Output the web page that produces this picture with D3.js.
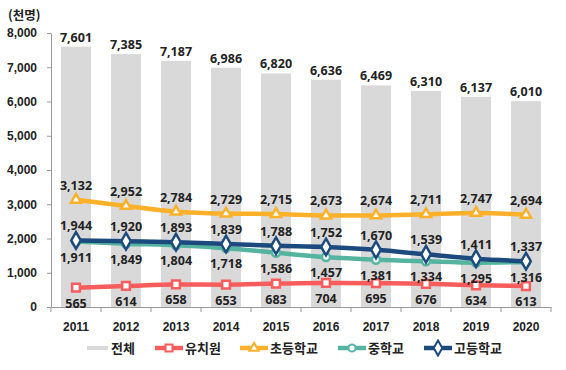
<!DOCTYPE html>
<html lang="ko">
<head>
<meta charset="utf-8">
<title>학생 수 추이</title>
<style>
  body { margin: 0; background: #fff; }
  svg { display: block; font-family: "Noto Sans", "Noto Sans CJK KR", sans-serif; }
  .tick text { font-size: 12px; font-weight: bold; fill: #222; }
  .lbl { font-size: 12.5px; font-weight: bold; fill: #222; text-anchor: middle; }
</style>
</head>
<body>
<div id="chart"></div>
<script src="https://d3js.org/d3.v7.min.js"></script>
<script>
const years = ["2011", "2012", "2013", "2014", "2015", "2016", "2017", "2018", "2019", "2020"];
const total = [7601, 7385, 7187, 6986, 6820, 6636, 6469, 6310, 6137, 6010];
const kinder = [565, 614, 658, 653, 683, 704, 695, 676, 634, 613];
const elem = [3132, 2952, 2784, 2729, 2715, 2673, 2674, 2711, 2747, 2694];
const middle = [1911, 1849, 1804, 1718, 1586, 1457, 1381, 1334, 1295, 1316];
const high = [1944, 1920, 1893, 1839, 1788, 1752, 1670, 1539, 1411, 1337];
const yTicks = [0, 1000, 2000, 3000, 4000, 5000, 6000, 7000, 8000];

const width = 566, height = 370,
    padding = [33, 15, 63, 51]; // top, right, bottom, left
const plotBottom = height - padding[2];

const series = [
  {name: "유치원", values: kinder, color: "#f95c5c", symbol: d3.symbolSquare, size: 60, below: true},
  {name: "초등학교", values: elem, color: "#fdb12a", symbol: d3.symbolTriangle, size: 45, below: false},
  {name: "중학교", values: middle, color: "#55b4a0", symbol: d3.symbolCircle, size: 50, below: true},
  {name: "고등학교", values: high, color: "#1c4a7e", symbol: d3.symbolDiamond, size: 80, below: false}
];

const svg = d3.select("#chart").append("svg")
    .attr("width", width)
    .attr("height", height);

const x = d3.scaleBand().domain(years)
    .range([padding[3], width - padding[1]])
    .paddingInner(0.4).paddingOuter(0.2);
const y = d3.scaleLinear().domain([0, 8000]).range([plotBottom, padding[0]]);
const fmt = d3.format(",");

// bars
svg.selectAll(null)
    .data(total)
    .enter()
    .append("rect")
    .attr("x", (d, i) => x(years[i]))
    .attr("width", x.bandwidth())
    .attr("y", d => y(d))
    .attr("height", d => plotBottom - y(d))
    .attr("fill", "#d9d9d9");

svg.selectAll(null)
    .data(total)
    .enter()
    .append("text")
    .attr("class", "lbl")
    .attr("x", (d, i) => x(years[i]) + x.bandwidth() / 2)
    .attr("y", d => y(d) - 5)
    .text(d => fmt(d));

// axes
const gY = svg.append("g")
    .attr("transform", "translate(" + padding[3] + ",0)")
    .call(d3.axisLeft(y).tickValues(yTicks).tickFormat(fmt).tickSize(4).tickSizeOuter(0).tickPadding(10));
gY.select(".domain").attr("stroke", "#999");
gY.selectAll(".tick line").attr("stroke", "#999");

const gX = svg.append("g")
    .attr("transform", "translate(0," + plotBottom + ")")
    .call(d3.axisBottom(x).tickSize(0).tickPadding(13));
gX.select(".domain").attr("stroke", "#999");
gX.selectAll(".tick text").attr("dy", "0.9em");

// category boundary ticks
svg.selectAll(null)
    .data(d3.range(years.length + 1))
    .enter()
    .append("line")
    .attr("x1", i => padding[3] + i * x.step())
    .attr("x2", i => padding[3] + i * x.step())
    .attr("y1", plotBottom)
    .attr("y2", plotBottom + 5)
    .attr("stroke", "#999");

// lines
const cx = i => x(years[i]) + x.bandwidth() / 2;
const line = d3.line()
    .x((d, i) => cx(i))
    .y(d => y(d))
    .curve(d3.curveMonotoneX);

series.forEach(function(s) {
  svg.append("path")
      .datum(s.values)
      .attr("d", line)
      .attr("fill", "none")
      .attr("stroke", s.color)
      .attr("stroke-width", 4.5);
});

series.forEach(function(s) {
  svg.selectAll(null)
      .data(s.values)
      .enter()
      .append("path")
      .attr("d", d3.symbol().type(s.symbol).size(s.size))
      .attr("transform", (d, i) => "translate(" + cx(i) + "," + y(d) + ")")
      .attr("fill", "#fff")
      .attr("stroke", s.color)
      .attr("stroke-width", 2.5);

  svg.selectAll(null)
      .data(s.values)
      .enter()
      .append("text")
      .attr("class", "lbl")
      .attr("x", (d, i) => cx(i))
      .attr("y", d => s.below ? y(d) + 20 : y(d) - 10)
      .text(d => fmt(d));
});

// unit
svg.append("text")
    .attr("x", 8)
    .attr("y", 20)
    .style("font-size", "12.5px")
    .style("font-weight", "bold")
    .style("fill", "#222")
    .style("font-family", "'Noto Sans CJK KR', sans-serif")
    .text("(천명)");

// legend
const ly = 348;
const legend = svg.append("g").style("font-family", "'Noto Sans CJK KR', sans-serif");
legend.append("rect")
    .attr("x", 87).attr("y", ly - 2).attr("width", 21).attr("height", 4)
    .attr("fill", "#d9d9d9");
legend.append("text")
    .attr("x", 111).attr("y", ly + 5)
    .style("font-size", "13px").style("font-weight", "bold").style("fill", "#222")
    .text("전체");

const legendX = [155, 240, 338, 424];
series.forEach(function(s, i) {
  const lx = legendX[i];
  legend.append("line")
      .attr("x1", lx).attr("x2", lx + 28)
      .attr("y1", ly).attr("y2", ly)
      .attr("stroke", s.color).attr("stroke-width", 4.5);
  legend.append("path")
      .attr("d", d3.symbol().type(s.symbol).size(s.size * 0.8))
      .attr("transform", "translate(" + (lx + 14) + "," + ly + ")")
      .attr("fill", "#fff").attr("stroke", s.color).attr("stroke-width", 2);
  legend.append("text")
      .attr("x", lx + 30).attr("y", ly + 5)
      .style("font-size", "13px").style("font-weight", "bold").style("fill", "#222")
      .text(s.name);
});
</script>
</body>
</html>
